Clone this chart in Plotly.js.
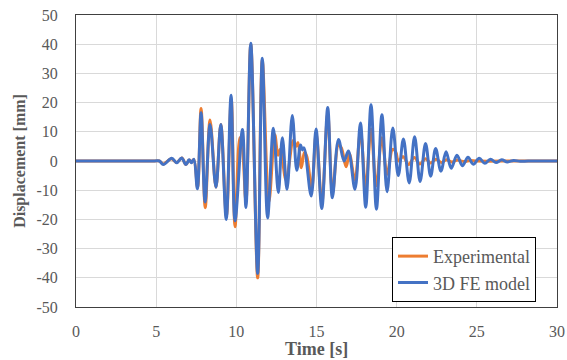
<!DOCTYPE html>
<html>
<head>
<meta charset="utf-8">
<script src="https://cdn.plot.ly/plotly-3.0.1.min.js"></script>
<style>
html,body{margin:0;padding:0;background:#fff;}
#chart{width:567px;height:360px;}
#chart .xtick text, #chart .ytick text { font-family: 'Liberation Serif', 'Times New Roman', serif !important; }
</style>
</head>
<body>
<div id="chart"></div>
<script>
// Experimental (orange) – peak/trough readings
const timeExp = [0, 2.5, 4.9, 5.2, 5.45, 5.95, 6.28, 6.6, 6.86, 7.05, 7.2, 7.35, 7.58, 7.8, 8.06, 8.36, 8.73, 9.03, 9.38, 9.68, 9.92, 10.22, 10.36, 10.6, 10.9, 11.33, 11.62, 12.03, 12.4, 12.6, 12.75, 13.1, 13.55, 13.72, 13.85, 14.05, 14.25, 14.4, 14.7, 14.98, 15.33, 15.7, 16.0, 16.37, 16.55, 16.85, 17.05, 17.4, 17.74, 18.07, 18.4, 18.72, 19.08, 19.4, 19.75, 19.95, 20.1, 20.4, 20.75, 21.1, 21.45, 21.8, 22.12, 22.45, 22.8, 23.1, 23.45, 23.8, 24.2, 24.6, 25.0, 27.5, 30];
const dispExp = [0, 0, 0, 0, -1.0, 0.8, -0.5, 1.0, -1.2, 0.3, -0.3, 0.5, -9, 18, -16, 14, -9, 12.5, -19, 21.5, -22.5, 8, 5.5, -14, 40, -40, 34.5, -14, 9, 2, 4, -6.5, 7, 5, 6.3, -2.3, 3, 1.5, -9.5, 9.5, -14.5, 16, -11, 5.5, 4.5, -2, 2.5, -6.5, 10, -9, 11, -8.5, 8, -4.5, 4, 3, 0, 1.5, -1.2, 1.2, -1, 0.8, -0.7, 0.6, -0.5, 0.4, -0.3, 0.3, -0.2, 0.2, 0, 0, 0];

// 3D FE model (blue) – peak/trough readings
const timeModel = [0, 2.5, 4.9, 5.2, 5.45, 5.97, 6.28, 6.59, 6.86, 7.05, 7.2, 7.35, 7.57, 7.8, 8.05, 8.36, 8.73, 9.03, 9.37, 9.67, 9.92, 10.38, 10.6, 10.9, 11.33, 11.62, 11.95, 12.31, 12.62, 12.87, 13.16, 13.49, 13.77, 14.0, 14.12, 14.22, 14.67, 14.97, 15.33, 15.7, 15.99, 16.37, 16.72, 16.99, 17.4, 17.74, 18.07, 18.4, 18.74, 19.08, 19.4, 19.76, 20.1, 20.42, 20.78, 21.12, 21.46, 21.8, 22.12, 22.43, 22.76, 23.08, 23.4, 23.76, 24.1, 24.45, 24.78, 25.15, 25.5, 25.85, 26.2, 26.55, 26.9, 27.3, 27.7, 28.2, 29, 30];
const dispModel = [0, 0, 0, 0, -1.2, 0.9, -0.6, 1.0, -1.2, 0.4, -0.6, 0.6, -9.5, 16.5, -14, 12.5, -9, 12.5, -20, 22.5, -20.5, 10.8, -15.9, 40.3, -38.5, 35.2, -19.5, 11.2, -10.8, 8, -9.7, 15.6, -3.2, 5.5, 3.8, 4.5, -12, 11, -16.3, 18.3, -12.6, 7.4, 0, 3.4, -9.7, 13, -15.8, 19.3, -16.5, 15.8, -10.5, 11.3, -5, 7.5, -7.5, 8.3, -7, 6, -5.2, 4.3, -3.5, 3.2, -2.5, 2, -1.6, 1.3, -1.1, 0.9, -0.8, 0.6, -0.5, 0.4, -0.3, 0.2, -0.1, 0, 0, 0];

const xTicks = [0, 5, 10, 15, 20, 25, 30];
const yTicks = [-50, -40, -30, -20, -10, 0, 10, 20, 30, 40, 50];

const font = 'Liberation Serif';
const grey = '#595959';
const traces = [
  {x: timeExp, y: dispExp, name: 'Experimental', type: 'scatter', mode: 'lines',
   line: {color: '#ED7D31', width: 3, shape: 'spline', smoothing: 1}},
  {x: timeModel, y: dispModel, name: '3D FE model', type: 'scatter', mode: 'lines',
   line: {color: '#4472C4', width: 3, shape: 'spline', smoothing: 1}}
];
const layout = {
  width: 567, height: 360,
  margin: {l: 76, r: 10, t: 15, b: 53},
  paper_bgcolor: '#fff', plot_bgcolor: '#fff',
  font: {family: font, size: 16, color: grey},
  showlegend: true,
  legend: {x: 0.657, y: 0.24, xanchor: 'left', yanchor: 'top',
    bgcolor: '#fff', bordercolor: '#000', borderwidth: 1,
    font: {family: font, size: 18, color: grey}, tracegroupgap: 0},
  xaxis: {range: [0, 30], tickvals: xTicks, ticktext: xTicks.map(String),
    showgrid: true, gridcolor: '#d9d9d9', gridwidth: 1, zeroline: false,
    showline: true, mirror: true, linecolor: '#404040', linewidth: 1, ticks: '',
    ticklabelstandoff: 10,
    tickfont: {family: font, size: 16, color: grey}},
  yaxis: {range: [-50, 50], tickvals: yTicks, ticktext: yTicks.map(String),
    showgrid: true, gridcolor: '#d9d9d9', gridwidth: 1, zeroline: false,
    showline: true, mirror: true, linecolor: '#404040', linewidth: 1, ticks: '',
    ticklabelstandoff: 14,
    tickfont: {family: font, size: 16, color: grey},
    title: {text: '<b>Displacement [mm]</b>', font: {family: font, size: 16, color: grey}, standoff: 6}},
  annotations: [{text: '<b>Time [s]</b>', xref: 'paper', yref: 'paper', x: 0.5, y: -0.143,
    xanchor: 'center', yanchor: 'middle', showarrow: false,
    font: {family: font, size: 18, color: grey}}]
};
Plotly.newPlot('chart', traces, layout, {displayModeBar: false, staticPlot: true});
</script>
</body>
</html>
